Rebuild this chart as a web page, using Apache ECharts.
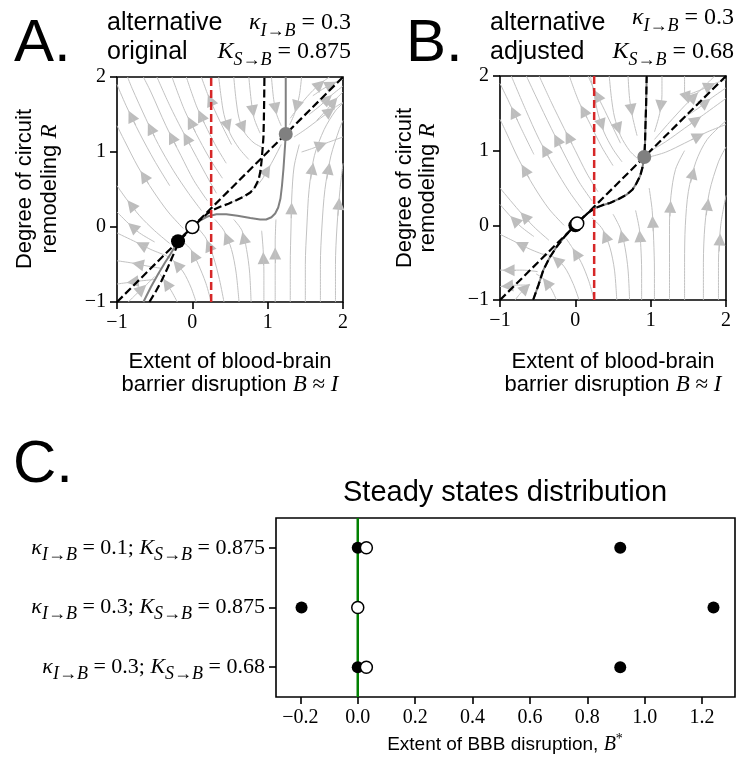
<!DOCTYPE html>
<html>
<head>
<meta charset="utf-8">
<script src="https://cdn.jsdelivr.net/npm/echarts@6/dist/echarts.min.js"></script>
<style>
  html, body { margin: 0; padding: 0; background: #ffffff; }
  #chart { width: 736px; height: 760px; }
</style>
</head>
<body>
<div id="chart"></div>
<script>
// ---------- data ----------
const phaseTicks = [-1, 0, 1, 2];
const steadyTicks = [-0.2, 0, 0.2, 0.4, 0.6, 0.8, 1.0, 1.2];
const thresholdB = 0.25;
const diagonal = [[-1, -1], [2, 2]];

// B-nullcline of the original model (solid gray, panel A)
const nullclineOriginal = [[-0.65, -1], [-0.55, -0.8], [-0.45, -0.62], [-0.36, -0.47], [-0.29, -0.36],
  [-0.23, -0.26], [-0.19, -0.19], [-0.1, -0.09], [0, 0], [0.1, 0.085], [0.2, 0.14], [0.32, 0.17],
  [0.45, 0.17], [0.6, 0.15], [0.77, 0.12], [0.9, 0.1], [0.98, 0.1], [1.05, 0.13], [1.1, 0.18],
  [1.14, 0.26], [1.17, 0.38], [1.19, 0.55], [1.21, 0.78], [1.225, 1.0], [1.235, 1.15], [1.24, 1.24],
  [1.24, 1.6], [1.24, 2]];

// B-nullcline of the adjusted model (dashed black), as drawn in panel A
const nullclineAdjustedA = [[-0.57, -1], [-0.48, -0.85], [-0.41, -0.72], [-0.33, -0.55], [-0.27, -0.41],
  [-0.2, -0.25], [-0.12, -0.13], [0, 0], [0.1, 0.09], [0.2, 0.18], [0.28, 0.23], [0.37, 0.27],
  [0.48, 0.31], [0.59, 0.36], [0.69, 0.41], [0.77, 0.46], [0.83, 0.53], [0.88, 0.63], [0.905, 0.75],
  [0.92, 0.89], [0.933, 1.05], [0.944, 1.2], [0.95, 1.45], [0.953, 1.65], [0.957, 2]];

// B-nullcline of the adjusted model, panel B
const nullclineAdjustedB = [[-0.56, -1], [-0.49, -0.8], [-0.425, -0.6], [-0.34, -0.43], [-0.25, -0.29],
  [-0.15, -0.16], [-0.06, -0.06], [0, 0], [0.05, 0.055], [0.11, 0.115], [0.18, 0.175], [0.26, 0.23],
  [0.36, 0.27], [0.46, 0.3], [0.57, 0.35], [0.68, 0.41], [0.76, 0.48], [0.81, 0.56], [0.86, 0.66],
  [0.89, 0.77], [0.915, 0.915], [0.925, 1.1], [0.93, 1.3], [0.94, 1.63], [0.947, 2]];

// fixed points [B, R]
const stableA = [[-0.19, -0.19]];
const unstableA = [[0, 0]];
const upperA = [[1.24, 1.24]];
const stableB = [[0, 0]];
const unstableB = [[0.025, 0.025]];
const upperB = [[0.915, 0.915]];

// streamlines, listed in the direction of flow
const streamsA = [
  [[0.32, 0.45], [0.18, 0.7], [0.02, 1.0], [-0.14, 1.3], [-0.3, 1.62], [-0.47, 2.0]],
  [[0.45, 0.85], [0.33, 1.05], [0.2, 1.3], [0.06, 1.6], [-0.08, 2.0]],
  [[0.4, 0.65], [0.25, 0.88], [0.1, 1.15], [-0.1, 1.55], [-0.27, 2.0]],
  [[0.52, 1.1], [0.42, 1.3], [0.3, 1.55], [0.2, 1.78], [0.12, 2.0]],
  [[0.2, 0.35], [0.02, 0.62], [-0.15, 0.95], [-0.35, 1.35], [-0.55, 1.8], [-0.65, 2.0]],
  [[0.12, 0.22], [-0.05, 0.45], [-0.25, 0.75], [-0.45, 1.1], [-0.62, 1.45], [-0.8, 1.85], [-0.86, 2.0]],
  [[-0.3, 0.55], [-0.5, 0.88], [-0.7, 1.25], [-0.88, 1.62], [-1.0, 1.9]],
  [[-0.12, -0.02], [-0.32, 0.2], [-0.52, 0.48], [-0.72, 0.8], [-0.9, 1.15], [-1.0, 1.35]],
  [[-0.3, -0.22], [-0.5, -0.05], [-0.7, 0.15], [-0.88, 0.38], [-1.0, 0.55]],
  [[-0.5, -0.2], [-0.7, -0.08], [-0.85, 0.05], [-1.0, 0.2]],
  [[-0.35, -0.38], [-0.55, -0.3], [-0.75, -0.2], [-1.0, -0.08]],
  [[-0.42, -0.55], [-0.6, -0.52], [-0.8, -0.48], [-1.0, -0.45]],
  [[-0.5, -0.7], [-0.7, -0.72], [-0.85, -0.74], [-1.0, -0.76]],
  [[-0.85, -1.0], [-0.75, -0.9], [-0.62, -0.78], [-0.5, -0.66]],
  [[0.05, -1.0], [-0.02, -0.8], [-0.12, -0.6], [-0.25, -0.45], [-0.35, -0.38]],
  [[0.25, -1.0], [0.18, -0.75], [0.08, -0.5], [-0.02, -0.3], [-0.12, -0.2]],
  [[-0.2, -1.0], [-0.28, -0.85], [-0.38, -0.7], [-0.45, -0.6]],
  [[0.42, -1.0], [0.36, -0.7], [0.28, -0.4], [0.18, -0.15], [0.06, 0.0]],
  [[0.62, -1.0], [0.58, -0.6], [0.52, -0.3], [0.42, -0.05], [0.3, 0.1]],
  [[0.78, -1.0], [0.76, -0.6], [0.72, -0.3], [0.66, -0.05], [0.55, 0.1]],
  [[0.95, -1.0], [0.95, -0.6], [0.94, -0.3], [0.92, -0.05]],
  [[1.1, -1.0], [1.1, -0.6], [1.1, -0.2], [1.11, 0.1]],
  [[1.3, -1.0], [1.3, -0.5], [1.31, 0.0], [1.32, 0.4], [1.35, 0.8], [1.42, 1.1]],
  [[1.5, -1.0], [1.5, -0.5], [1.52, 0.0], [1.55, 0.5], [1.62, 0.95], [1.75, 1.3], [1.9, 1.55], [2.0, 1.65]],
  [[1.7, -1.0], [1.7, -0.5], [1.72, 0.0], [1.76, 0.5], [1.84, 0.95], [1.95, 1.3], [2.0, 1.42]],
  [[1.9, -1.0], [1.9, -0.5], [1.92, 0.0], [1.96, 0.5], [2.0, 0.85]],
  [[1.35, 1.2], [1.5, 1.3], [1.7, 1.45], [1.9, 1.6], [2.0, 1.66]],
  [[1.3, 1.45], [1.45, 1.65], [1.6, 1.82], [1.75, 1.95], [1.82, 2.0]],
  [[1.45, 1.0], [1.6, 1.05], [1.78, 1.12], [2.0, 1.2]],
  [[1.6, 1.75], [1.75, 1.85], [1.9, 1.93], [2.0, 1.97]],
  [[1.55, 1.5], [1.7, 1.62], [1.85, 1.76], [2.0, 1.88]],
  [[1.65, 1.42], [1.8, 1.58], [1.92, 1.72], [2.0, 1.8]],
  [[0.35, 2.0], [0.38, 1.75], [0.42, 1.5], [0.5, 1.25], [0.62, 1.05], [0.75, 0.9]],
  [[0.55, 2.0], [0.58, 1.7], [0.62, 1.45], [0.7, 1.25], [0.82, 1.12], [0.95, 1.05]],
  [[0.75, 2.0], [0.78, 1.7], [0.82, 1.45], [0.9, 1.25]],
  [[1.05, 2.0], [1.08, 1.7], [1.12, 1.5], [1.18, 1.35]],
  [[1.45, 2.0], [1.42, 1.75], [1.36, 1.52], [1.29, 1.36]],
  [[0.45, 0.3], [0.7, 0.42], [0.9, 0.6], [1.05, 0.85], [1.18, 1.1]]
];

const streamsB = [
  [[0.3, 0.45], [0.15, 0.7], [0.0, 1.0], [-0.15, 1.3], [-0.32, 1.65], [-0.48, 2.0]],
  [[0.5, 0.8], [0.35, 1.05], [0.2, 1.35], [0.05, 1.65], [-0.08, 2.0]],
  [[0.6, 1.1], [0.48, 1.35], [0.36, 1.6], [0.25, 1.82], [0.17, 2.0]],
  [[0.22, 0.33], [0.05, 0.58], [-0.12, 0.9], [-0.32, 1.3], [-0.52, 1.72], [-0.65, 2.0]],
  [[0.1, 0.2], [-0.08, 0.45], [-0.28, 0.78], [-0.48, 1.15], [-0.66, 1.55], [-0.85, 2.0]],
  [[-0.15, 0.0], [-0.35, 0.22], [-0.55, 0.52], [-0.75, 0.88], [-0.92, 1.25], [-1.0, 1.42]],
  [[-0.35, -0.2], [-0.55, -0.02], [-0.75, 0.2], [-1.0, 0.5]],
  [[-0.55, -0.15], [-0.72, -0.02], [-0.86, 0.12], [-1.0, 0.28]],
  [[-0.4, -0.4], [-0.6, -0.32], [-0.8, -0.22], [-1.0, -0.12]],
  [[-0.5, -0.62], [-0.7, -0.6], [-1.0, -0.6]],
  [[-0.6, -0.8], [-0.75, -0.8], [-1.0, -0.82]],
  [[-0.55, 0.95], [-0.72, 1.3], [-0.88, 1.65], [-1.0, 1.9]],
  [[0.05, -1.0], [-0.03, -0.78], [-0.15, -0.55], [-0.3, -0.42], [-0.42, -0.38]],
  [[0.25, -1.0], [0.18, -0.75], [0.08, -0.5], [-0.04, -0.3], [-0.12, -0.18]],
  [[-0.25, -1.0], [-0.32, -0.85], [-0.42, -0.72], [-0.52, -0.65]],
  [[-0.8, -1.0], [-0.72, -0.9], [-0.62, -0.8]],
  [[0.55, -1.0], [0.52, -0.6], [0.46, -0.3], [0.36, -0.05], [0.22, 0.1]],
  [[0.72, -1.0], [0.7, -0.6], [0.66, -0.3], [0.6, -0.05], [0.5, 0.15]],
  [[0.88, -1.0], [0.88, -0.6], [0.87, -0.3], [0.85, -0.05], [0.8, 0.2]],
  [[1.05, -1.0], [1.05, -0.6], [1.04, -0.2], [1.02, 0.2], [0.98, 0.5]],
  [[1.25, -1.0], [1.25, -0.5], [1.25, 0.0], [1.27, 0.4], [1.33, 0.75], [1.45, 1.0]],
  [[1.45, -1.0], [1.45, -0.5], [1.46, 0.0], [1.5, 0.45], [1.6, 0.85], [1.75, 1.15], [2.0, 1.4]],
  [[1.7, -1.0], [1.7, -0.5], [1.72, 0.0], [1.78, 0.45], [1.9, 0.85], [2.0, 1.05]],
  [[1.9, -1.0], [1.9, -0.5], [1.93, 0.0], [2.0, 0.4]],
  [[1.0, 1.0], [1.2, 1.12], [1.45, 1.3], [1.7, 1.48], [2.0, 1.7]],
  [[1.0, 0.92], [1.2, 0.98], [1.45, 1.1], [1.75, 1.25], [2.0, 1.35]],
  [[1.05, 1.15], [1.25, 1.38], [1.45, 1.6], [1.65, 1.8], [1.85, 2.0]],
  [[1.5, 1.75], [1.68, 1.82], [1.85, 1.9], [2.0, 1.95]],
  [[1.45, 1.45], [1.62, 1.56], [1.8, 1.7], [2.0, 1.84]],
  [[0.2, 2.0], [0.25, 1.75], [0.3, 1.5], [0.38, 1.25], [0.5, 1.02], [0.62, 0.85]],
  [[0.45, 2.0], [0.48, 1.7], [0.52, 1.45], [0.6, 1.2], [0.72, 1.0], [0.82, 0.9]],
  [[0.7, 2.0], [0.72, 1.7], [0.76, 1.45], [0.82, 1.2]],
  [[1.15, 2.0], [1.15, 1.75], [1.12, 1.5], [1.05, 1.25]],
  [[1.45, 2.0], [1.45, 1.8], [1.5, 1.65]]
];

// steady states per parameter set (rows, top to bottom)
const rowKappa = ['0.1', '0.3', '0.3'];
const rowK = ['0.875', '0.875', '0.68'];
const steadyStable = [[0, 0], [0.915, 0], [-0.196, 1], [1.24, 1], [0, 2], [0.915, 2]];
const steadyUnstable = [[0.03, 0], [0, 1], [0.03, 2]];

// ---------- styles ----------
const SANS = 'Liberation Sans';
const SERIF = 'Liberation Serif';
const STREAM_COLOR = '#c2c2c2';

const chart = echarts.init(document.getElementById('chart'), null, { renderer: 'canvas' });

const minus = v => (v < 0 ? '\u2212' : '') + Math.abs(v);
const minus1 = v => (v < 0 ? '\u2212' : '') + Math.abs(v).toFixed(1);

function phaseAxis(idx) {
  return {
    type: 'value', gridIndex: idx, min: -1, max: 2, interval: 1,
    axisLine: { show: false, onZero: false },
    axisTick: { show: true, inside: false, length: 7, lineStyle: { color: '#000', width: 1.6 }, customValues: phaseTicks },
    axisLabel: { color: '#000', fontFamily: SERIF, fontSize: 20, margin: 11, formatter: minus, customValues: phaseTicks },
    splitLine: { show: false }
  };
}

function streamSeries(streams, idx) {
  const out = [];
  streams.forEach(s => {
    out.push({
      type: 'line', xAxisIndex: idx, yAxisIndex: idx, data: s, smooth: 0.3,
      symbol: 'none', silent: true, z: 1, clip: true,
      lineStyle: { color: STREAM_COLOR, width: 1 }
    });
  });
  const arrows = streams.map(s => {
    const m = Math.floor((s.length - 1) / 2);
    const a = s[m], b = s[m + 1];
    const p = t => [a[0] + (b[0] - a[0]) * t, a[1] + (b[1] - a[1]) * t];
    return { coords: [p(0.3), p(0.62)] };
  });
  out.push({
    type: 'lines', coordinateSystem: 'cartesian2d', xAxisIndex: idx, yAxisIndex: idx,
    data: arrows, symbol: ['none', 'triangle'], symbolSize: [10, 12], silent: true, z: 1,
    lineStyle: { color: '#bdbdbd', width: 1, opacity: 1 }
  });
  return out;
}

function curve(data, idx, style, z) {
  return { type: 'line', xAxisIndex: idx, yAxisIndex: idx, data, symbol: 'none', silent: true, z, clip: true, lineStyle: style };
}

function points(data, idx, fill, border, size, z) {
  return {
    type: 'scatter', xAxisIndex: idx, yAxisIndex: idx, data, symbolSize: size, silent: true, z,
    itemStyle: { color: fill, borderColor: border || fill, borderWidth: border ? 1.5 : 0, opacity: 1 }
  };
}

const dashedBlack = { color: '#000', width: 2.2, type: [8, 3.5] };
const redDash = { color: '#d62728', width: 2.5, type: [8, 4] };
const grayLine = { color: '#808080', width: 2 };
const thresholdLine = [[thresholdB, -1], [thresholdB, 2]];

const series = [
  ...streamSeries(streamsA, 0),
  curve(nullclineOriginal, 0, grayLine, 3),
  curve(diagonal, 0, dashedBlack, 4),
  curve(nullclineAdjustedA, 0, dashedBlack, 4),
  curve(thresholdLine, 0, redDash, 5),
  points(stableA, 0, '#000', null, 14, 6),
  points(unstableA, 0, '#fff', '#000', 13, 6),
  points(upperA, 0, '#808080', null, 14, 6),

  ...streamSeries(streamsB, 1),
  curve(nullclineAdjustedB, 1, grayLine, 3),
  curve(diagonal, 1, dashedBlack, 4),
  curve(nullclineAdjustedB, 1, dashedBlack, 4),
  curve(thresholdLine, 1, redDash, 5),
  points(stableB, 1, '#000', null, 14, 6),
  points(unstableB, 1, '#fff', '#000', 13, 7),
  points(upperB, 1, '#808080', null, 14, 6),

  { type: 'line', xAxisIndex: 2, yAxisIndex: 2, data: [[0, -0.5], [0, 2.5]], symbol: 'none', silent: true, z: 2,
    lineStyle: { color: '#008000', width: 2.5 } },
  points(steadyStable, 2, '#000', null, 12, 5),
  points(steadyUnstable, 2, '#fff', '#000', 12, 6)
];

chart.setOption({
  animation: false,
  backgroundColor: '#ffffff',
  grid: [
    { left: 117, top: 77, width: 226, height: 225, show: true, borderColor: '#000', borderWidth: 1.6, backgroundColor: 'transparent' },
    { left: 500, top: 76, width: 226, height: 224, show: true, borderColor: '#000', borderWidth: 1.6, backgroundColor: 'transparent' },
    { left: 276, top: 518, width: 459, height: 179, show: true, borderColor: '#000', borderWidth: 1.6, backgroundColor: 'transparent' }
  ],
  xAxis: [
    phaseAxis(0), phaseAxis(1),
    {
      type: 'value', gridIndex: 2, min: -0.285, max: 1.315,
      axisLine: { show: false, onZero: false },
      axisTick: { show: true, length: 7, lineStyle: { color: '#000', width: 1.6 }, customValues: steadyTicks },
      axisLabel: { color: '#000', fontFamily: SERIF, fontSize: 20, margin: 11, formatter: minus1, customValues: steadyTicks },
      splitLine: { show: false }
    }
  ],
  yAxis: [
    phaseAxis(0), phaseAxis(1),
    {
      type: 'value', gridIndex: 2, min: -0.5, max: 2.5, inverse: true,
      axisLine: { show: false, onZero: false },
      axisTick: { show: true, length: 7, lineStyle: { color: '#000', width: 1.6 }, customValues: [0, 1, 2] },
      axisLabel: { show: false, customValues: [0, 1, 2] },
      splitLine: { show: false }
    }
  ],
  series
});

// ---------- text with mixed fonts ----------
const measureCtx = document.createElement('canvas').getContext('2d');
const F = {
  big: { family: SANS, size: 60 },
  word: { family: SANS, size: 25 },
  axis: { family: SANS, size: 22 },
  axisM: { family: SERIF, size: 23, italic: true },
  axisR: { family: SERIF, size: 23 },
  mi: { family: SERIF, size: 24, italic: true },
  mr: { family: SERIF, size: 24 },
  sub: { family: SERIF, size: 18, italic: true, dy: 8 },
  subR: { family: SERIF, size: 18, dy: 8 },
  rowI: { family: SERIF, size: 22, italic: true },
  rowR: { family: SERIF, size: 22 },
  rowSub: { family: SERIF, size: 18, italic: true, dy: 7 },
  rowSubR: { family: SERIF, size: 18, dy: 7 },
  title: { family: SANS, size: 29 },
  xlab: { family: SANS, size: 19 },
  xlabM: { family: SERIF, size: 20, italic: true },
  sup: { family: SERIF, size: 14, dy: -6 }
};

function textRun(parts, x, y, align, rotation) {
  let w = 0;
  const pieces = parts.map(([t, f]) => {
    measureCtx.font = (f.italic ? 'italic ' : '') + f.size + 'px "' + f.family + '"';
    const piece = { t, f, x: w };
    w += measureCtx.measureText(t).width;
    return piece;
  });
  const x0 = align === 'right' ? -w : align === 'center' ? -w / 2 : 0;
  return {
    type: 'group', x, y, rotation: rotation || 0, silent: true,
    children: pieces.map(p => ({
      type: 'text', x: x0 + p.x, y: p.f.dy || 0, silent: true,
      style: {
        text: p.t, fontSize: p.f.size, fontFamily: p.f.family,
        fontStyle: p.f.italic ? 'italic' : 'normal', fill: '#000',
        align: 'left', verticalAlign: 'middle', textAlign: 'left', textVerticalAlign: 'middle'
      }
    }))
  };
}

const kappaParts = v => [['\u03BA', F.mi], ['I', F.sub], ['\u2192', F.subR], ['B', F.sub], [' = ' + v, F.mr]];
const KParts = v => [['K', F.mi], ['S', F.sub], ['\u2192', F.subR], ['B', F.sub], [' = ' + v, F.mr]];

function panelLabels(gridLeft, gridRight, letterX, letter, word2, kappa, K, kappaMid, yl1, yl2, cy) {
  const cx = (gridLeft + gridRight) / 2;
  return [
    textRun([[letter, F.big]], letterX, 44, 'left'),
    textRun([['alternative', F.word]], gridLeft - 10, 23, 'left'),
    textRun([[word2, F.word]], gridLeft - 10, 52, 'left'),
    textRun(kappaParts(kappa), gridRight + 8, kappaMid, 'right'),
    textRun(KParts(K), gridRight + 8, 52, 'right'),
    textRun([['Extent of blood-brain', F.axis]], cx, 362, 'center'),
    textRun([['barrier disruption ', F.axis], ['B', F.axisM], [' \u2248 ', F.axisR], ['I', F.axisM]], cx, 385, 'center'),
    textRun([['Degree of circuit', F.axis]], yl1, cy, 'center', Math.PI / 2),
    textRun([['remodeling ', F.axis], ['R', F.axisM]], yl2, cy, 'center', Math.PI / 2)
  ];
}

const graphics = [
  ...panelLabels(117, 343, 14, 'A.', 'original', '0.3', '0.875', 23, 25, 50, 189),
  ...panelLabels(500, 726, 406, 'B.', 'adjusted', '0.3', '0.68', 18, 405, 428, 188),
  textRun([['C.', F.big]], 13, 465, 'left'),
  textRun([['Steady states distribution', F.title]], 505, 493, 'center'),
  textRun([['Extent of BBB disruption, ', F.xlab], ['B', F.xlabM], ['*', F.sup]], 505, 745, 'center')
];

rowKappa.forEach((kv, i) => {
  const py = chart.convertToPixel({ gridIndex: 2 }, [0, i])[1];
  graphics.push(textRun([
    ['\u03BA', F.rowI], ['I', F.rowSub], ['\u2192', F.rowSubR], ['B', F.rowSub], [' = ' + kv + '; ', F.rowR],
    ['K', F.rowI], ['S', F.rowSub], ['\u2192', F.rowSubR], ['B', F.rowSub], [' = ' + rowK[i], F.rowR]
  ], 265, py, 'right'));
});

chart.setOption({ graphic: graphics });
</script>
</body>
</html>
